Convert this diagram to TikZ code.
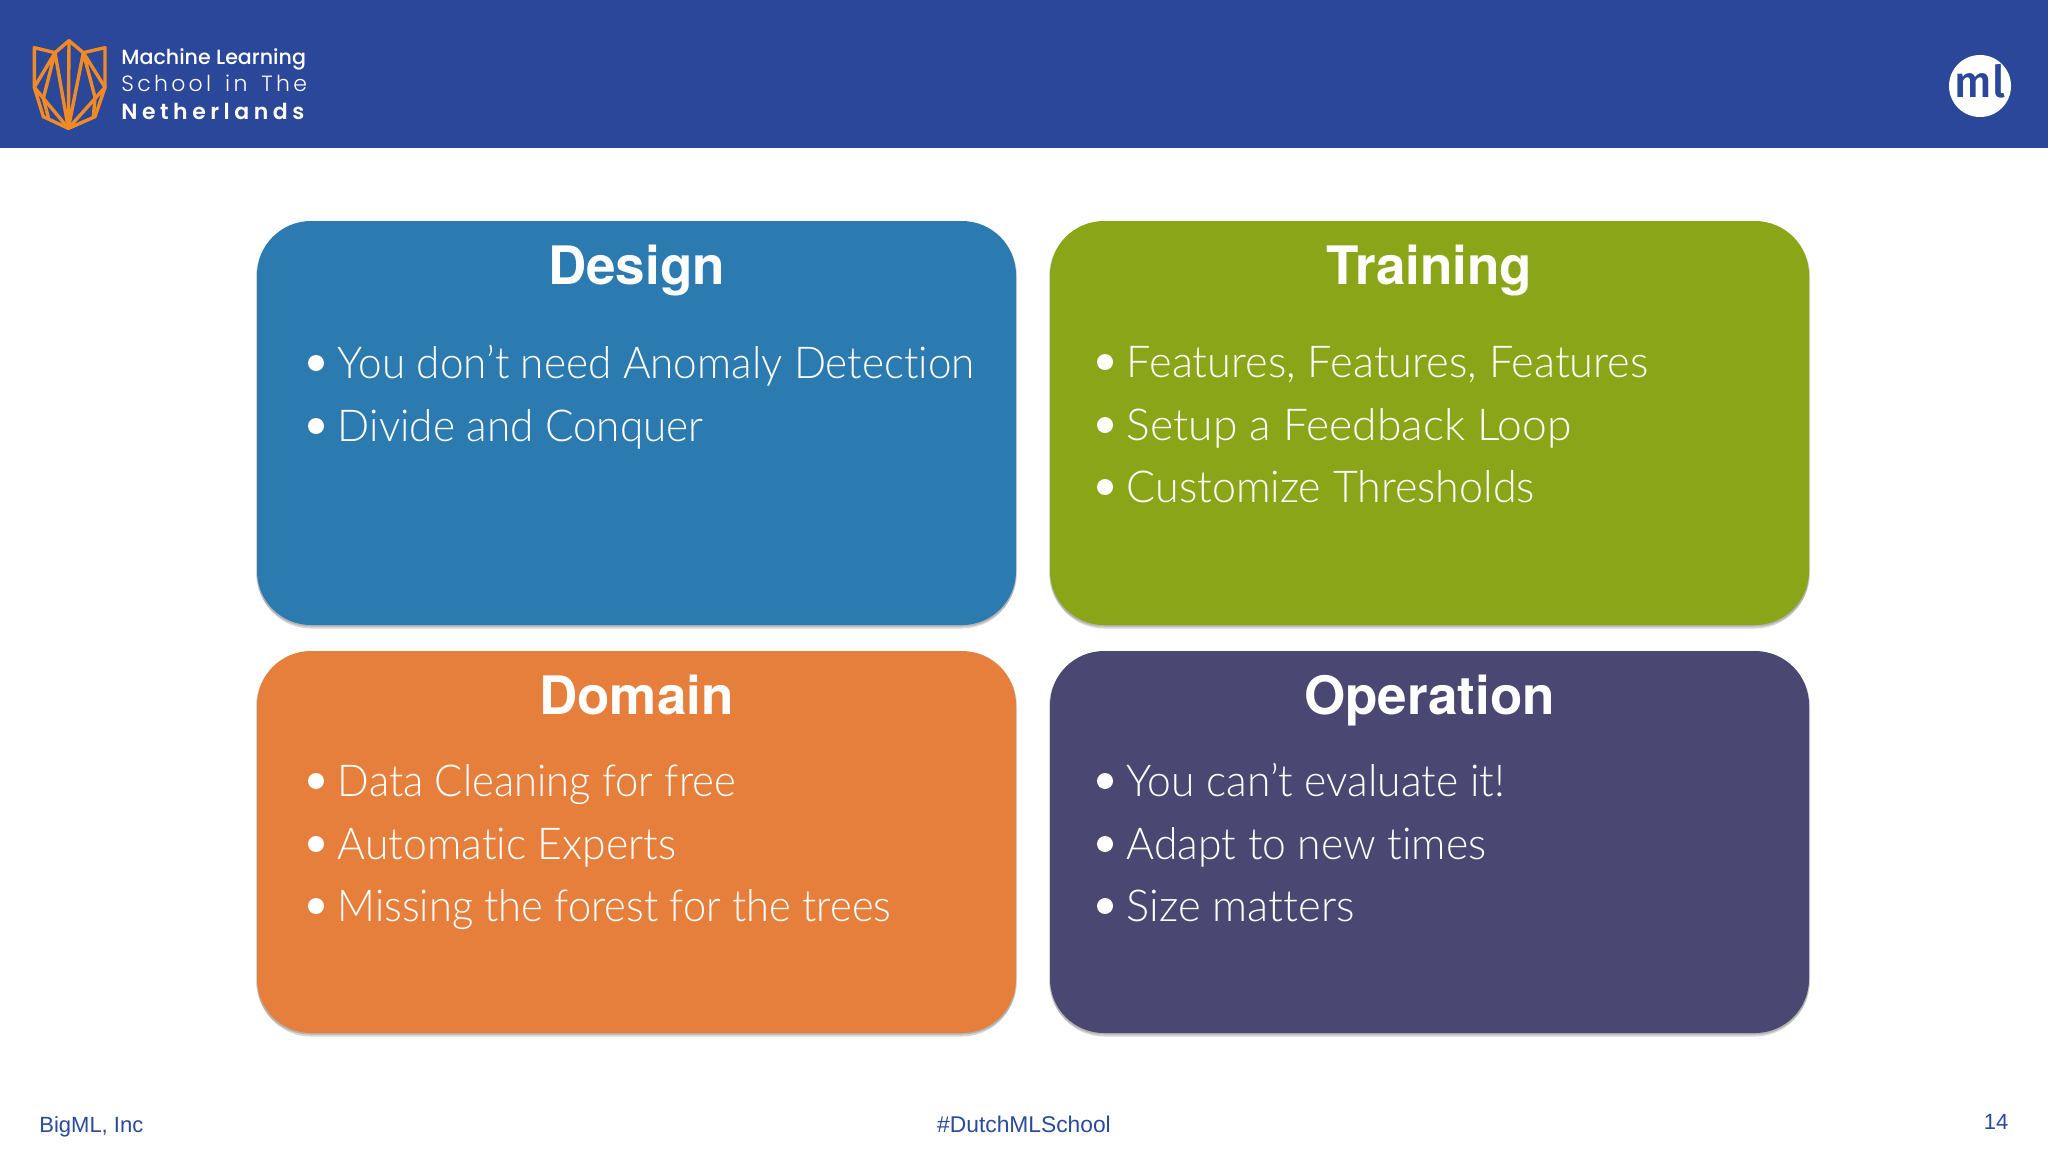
\documentclass[tikz,border=0pt]{standalone}
\usepackage{graphicx}
\usepackage{fontspec}
\setmainfont{Liberation Sans}
\newfontfamily\bodyf[FakeStretch=0.955,Ligatures=NoCommon]{Lato Light}
\newfontfamily\titlef{TeX Gyre Heros}
\newfontfamily\logoa{Poppins Medium}
\newfontfamily\logob[LetterSpace=15,WordSpace=1.5]{Poppins Light}
\newfontfamily\logoc[LetterSpace=20.5]{Poppins SemiBold}
\newfontfamily\mlf{Fira Sans Medium}
\definecolor{hdr}{HTML}{2B4799}
\definecolor{cblue}{HTML}{2C7BB0}
\definecolor{cgreen}{HTML}{8BA518}
\definecolor{corange}{HTML}{E67F3B}
\definecolor{cpurple}{HTML}{4A4872}
\definecolor{logoor}{HTML}{F08A24}
\definecolor{foot}{HTML}{2B4A9B}
\tikzset{
  card/.style={rounded corners=27pt,minimum width=379.5pt,inner sep=0pt,draw=none},
  cardshadow/.style={card,fill=black,fill opacity=.16},
  title/.style={text=white,font=\titlef\bfseries\fontsize{26.5}{30}\selectfont,anchor=base,inner sep=0pt},
  itemtext/.style={text=white,font=\bodyf\fontsize{22}{26}\selectfont,anchor=base west,inner sep=0pt},
  bul/.style={circle,fill=white,minimum size=8pt,inner sep=0pt},
  foottext/.style={text=foot,font=\fontsize{11}{13}\selectfont,anchor=base,inner sep=0pt},
  logotext/.style={text=white,anchor=base west,inner sep=0pt},
  logoline/.style={draw=logoor,line width=1.7pt,line join=round,line cap=round}
}
\newcommand{\carditem}[5]{% name, x of bullet, baseline, horizontal scale, text
  \node[bul] (#1b) at (#2,#3-15) {};
  \node[itemtext] (#1) at (#2+21.5,#3) {\scalebox{#4}[1]{#5}};
}
\begin{document}
\begin{tikzpicture}[x=0.5pt,y=-0.5pt]
\useasboundingbox (0,0) rectangle (2048,1152);
\fill[white] (0,0) rectangle (2048,1152);
\fill[hdr] (0,0) rectangle (2048,148);
% logo
\begin{scope}[x=0.1667pt,y=-0.1667pt]
\path[logoline] (103,143) -- (165,158) -- (207,122) -- (250,158) -- (315,143) -- (315,262) -- (285,350) -- (205,385) -- (130,350) -- (103,262) -- cycle;
\path[logoline] (165,158) -- (103,262) (165,158) -- (205,385) (165,158) -- (130,295) -- (145,352);
\path[logoline] (207,122) -- (205,385) (250,158) -- (205,385) (250,158) -- (315,262) (250,158) -- (285,292) -- (280,350);
\path[logoline] (103,262) -- (205,385) (315,262) -- (205,385);
\end{scope}
\node[logotext,font=\logoa\fontsize{10.3}{13}\selectfont] (lt1) at (121,64) {Machine Learning};
\node[logotext,font=\logob\fontsize{11}{13}\selectfont] (lt2) at (121,91) {School in The};
\node[logotext,font=\logoc\fontsize{11}{13}\selectfont] (lt3) at (121,119) {Netherlands};
\node[circle,fill=white,minimum size=31pt,inner sep=0pt] (mlc) at (1980,86) {};
\node[text=hdr,font=\mlf\fontsize{22}{26}\selectfont,inner sep=0pt] (mlt) at (1980,81) {ml};
% shadows
\foreach \cx/\cy/\h in {636.5/423/202,1429.5/423/202,636.5/842/191,1429.5/842/191}{
  \node[cardshadow,minimum height=\h pt] at (\cx,\cy+3.5) {};
  \node[cardshadow,minimum height=\h pt,minimum width=380.5pt] at (\cx,\cy+1.5) {};
}
% cards
\node[card,fill=cblue,minimum height=202pt] (design) at (636.5,423) {};
\node[card,fill=cgreen,minimum height=202pt] (training) at (1429.5,423) {};
\node[card,fill=corange,minimum height=191pt] (domain) at (636.5,842) {};
\node[card,fill=cpurple,minimum height=191pt] (operation) at (1429.5,842) {};
\node[title] (t1) at (636.5,284) {Design};
\node[title] (t2) at (1429.5,284) {Training};
\node[title] (t3) at (636.5,714) {Domain};
\node[title] (t4) at (1429.5,714) {Operation};
\carditem{a1}{316}{378}{1.006}{You don’t need Anomaly Detection}
\carditem{a2}{316}{441}{1.007}{Divide and Conquer}
\carditem{b1}{1105}{377}{1.031}{Features, Features, Features}
\carditem{b2}{1105}{440}{1.056}{Setup a Feedback Loop}
\carditem{b3}{1105}{502}{1.023}{Customize Thresholds}
\carditem{c1}{316}{796}{0.993}{Data Cleaning for free}
\carditem{c2}{316}{859}{1.016}{Automatic Experts}
\carditem{c3}{316}{921}{0.99}{Missing the forest for the trees}
\carditem{d1}{1105}{796}{1.014}{You can’t evaluate it!}
\carditem{d2}{1105}{859}{1.015}{Adapt to new times}
\carditem{d3}{1105}{921}{1.035}{Size matters}
\node[foottext,anchor=base west] (f1) at (39,1132) {BigML, Inc};
\node[foottext,font=\fontsize{11.4}{13}\selectfont] (f2) at (1024,1132) {\#DutchMLSchool};
\node[foottext] (f3) at (1996,1129) {14};
\end{tikzpicture}
\end{document}
